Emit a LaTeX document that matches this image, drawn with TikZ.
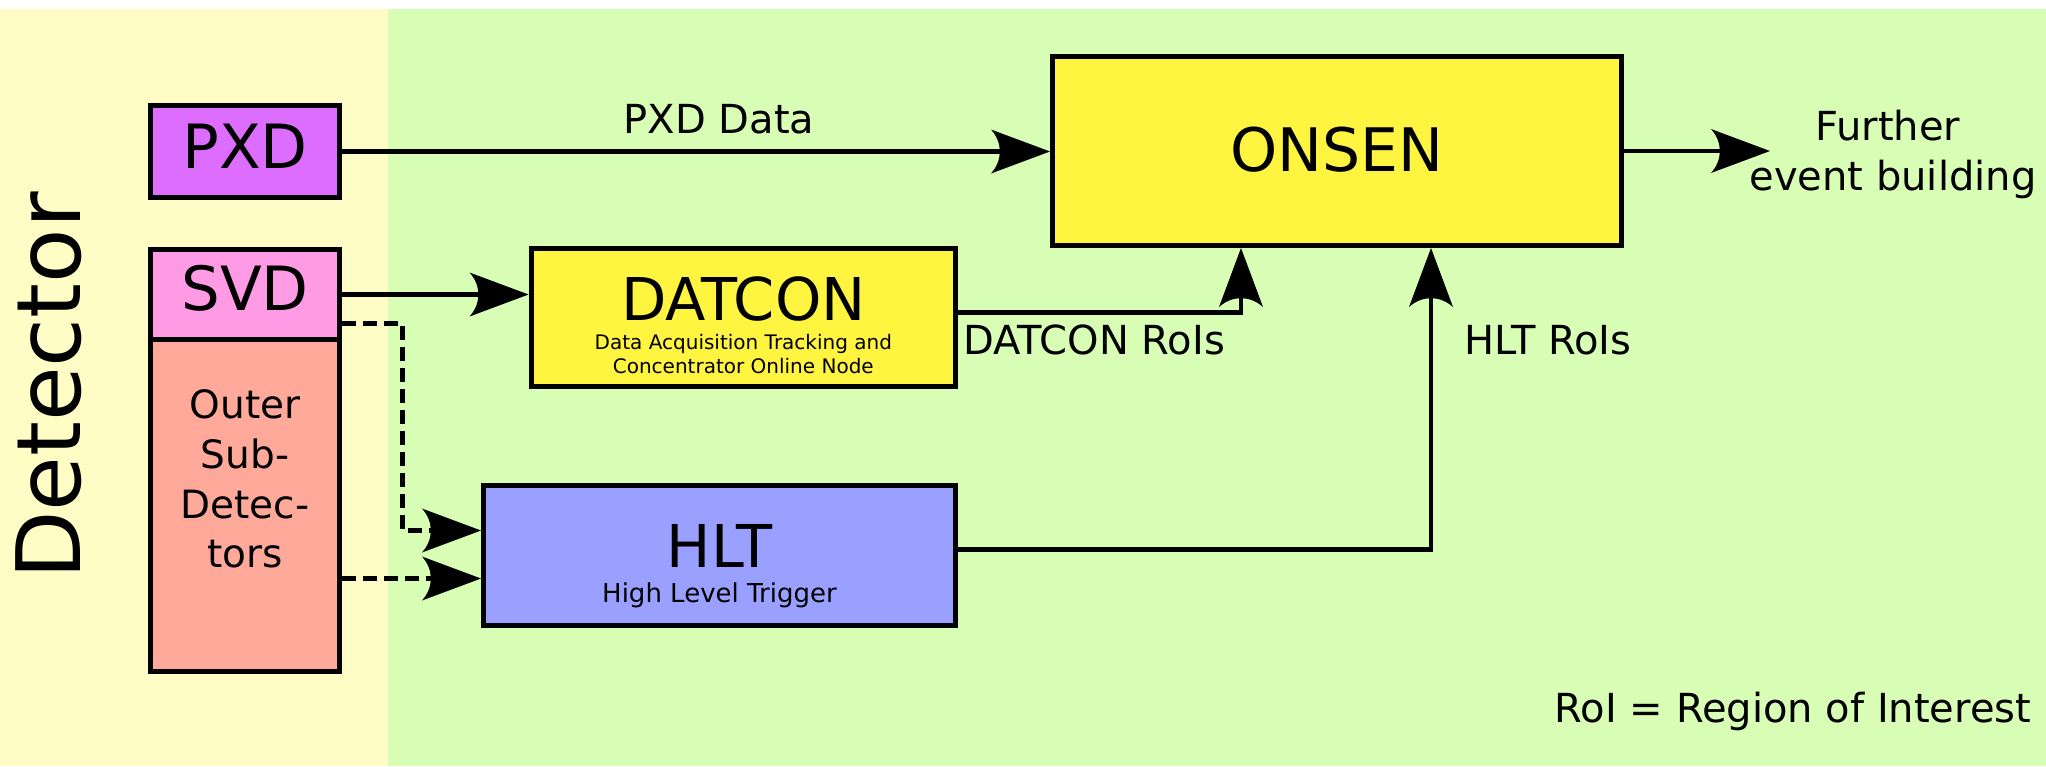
\documentclass[tikz,border=0pt]{standalone}
\usepackage{fontspec}
\setmainfont{DejaVu Sans}
\usetikzlibrary{arrows.meta,calc}
\definecolor{bgyellow}{HTML}{FFFDC5}
\definecolor{bggreen}{HTML}{D8FDB4}
\definecolor{pxdcol}{HTML}{DD6DFF}
\definecolor{svdcol}{HTML}{FF9AE5}
\definecolor{outercol}{HTML}{FFA99A}
\definecolor{boxyellow}{HTML}{FFF540}
\definecolor{hltcol}{HTML}{99A0FF}
\pgfdeclarearrow{
  name = InkTip,
  defaults = {length = 59pt, width = 44pt},
  setup code = {
    \pgfarrowssettipend{0pt}
    \pgfarrowssetbackend{-\pgfarrowlength}
    \pgfarrowssetlineend{-0.7\pgfarrowlength}
    \pgfarrowssetvisualbackend{-0.85\pgfarrowlength}
    \pgfarrowshullpoint{0pt}{0pt}
    \pgfarrowshullpoint{-\pgfarrowlength}{.5\pgfarrowwidth}
    \pgfarrowshullpoint{-\pgfarrowlength}{-.5\pgfarrowwidth}
    \pgfarrowssavethe\pgfarrowlength
    \pgfarrowssavethe\pgfarrowwidth
  },
  drawing code = {
    \pgfpathmoveto{\pgfqpoint{0pt}{0pt}}
    \pgfpathlineto{\pgfpoint{-\pgfarrowlength}{.5\pgfarrowwidth}}
    \pgfpathcurveto{\pgfpoint{-.8\pgfarrowlength}{.2\pgfarrowwidth}}{\pgfpoint{-.8\pgfarrowlength}{-.2\pgfarrowwidth}}{\pgfpoint{-\pgfarrowlength}{-.5\pgfarrowwidth}}
    \pgfpathclose
    \pgfusepathqfill
  },
  parameters = {\the\pgfarrowlength,\the\pgfarrowwidth},
}
\begin{document}
\begin{tikzpicture}[x=1pt,y=-1pt,
  box/.style={draw=black, line width=5pt, inner sep=0pt, rectangle},
  conn/.style={line width=4.6pt, draw=black},
  tipped/.style={-{InkTip[length=59pt,width=44pt]}},
  dashconn/.style={conn, line width=5pt, dash pattern=on 14pt off 7pt},
  lbl/.style={inner sep=0pt, anchor=base, font=\fontsize{40}{48}\selectfont},
  txt/.style={inner sep=0pt, anchor=base}]
\useasboundingbox (0,0) rectangle (2046,766);
\fill[white] (0,0) rectangle (2046,766);
\fill[bgyellow] (0,9) rectangle (388,766);
\fill[bggreen] (388,9) rectangle (2046,766);

% boxes
\node[box, fill=pxdcol, minimum width=189pt, minimum height=92pt] (pxd) at (245,151.5) {};
\node[box, fill=svdcol, minimum width=189pt, minimum height=90pt] (svd) at (245,294.5) {};
\node[box, fill=outercol, minimum width=189pt, minimum height=332pt] (outer) at (245,505.5) {};
\node[box, fill=boxyellow, minimum width=424.5pt, minimum height=138pt] (datcon) at (743.3,317.5) {};
\node[box, fill=boxyellow, minimum width=569pt, minimum height=189pt] (onsen) at (1337,151) {};
\node[box, fill=hltcol, minimum width=472pt, minimum height=140pt] (hlt) at (719.5,555.5) {};

% texts
\node[txt, rotate=90, font=\fontsize{89}{100}\selectfont] (detlbl) at (80,386) {Detector};
\node[txt, font=\fontsize{61}{70}\selectfont] (pxdt) at (245,168.5) {PXD};
\node[txt, font=\fontsize{61}{70}\selectfont] (svdt) at (245,310) {SVD};
\node[txt, font=\fontsize{39}{46}\selectfont] (o1) at (245,418) {Outer};
\node[txt, font=\fontsize{39}{46}\selectfont] (o2) at (245,468) {Sub-};
\node[txt, font=\fontsize{39}{46}\selectfont] (o3) at (245,518) {Detec-};
\node[txt, font=\fontsize{39}{46}\selectfont] (o4) at (245,567) {tors};
\node[txt, font=\fontsize{59}{70}\selectfont] (datcont) at (743.3,320) {DATCON};
\node[txt, font=\fontsize{20}{24}\selectfont] (datsub1) at (743.3,349) {Data Acquisition Tracking and};
\node[txt, font=\fontsize{20}{24}\selectfont] (datsub2) at (743.3,373) {Concentrator Online Node};
\node[txt, font=\fontsize{60}{70}\selectfont] (onsent) at (1337,171) {ONSEN};
\node[txt, font=\fontsize{59}{70}\selectfont] (hltt) at (719.5,567) {HLT};
\node[txt, font=\fontsize{26}{30}\selectfont] (hltsub) at (719.5,602) {High Level Trigger};

\node[lbl] (pxddata) at (719,133) {PXD Data};
\node[lbl] (datroi) at (1094,354) {DATCON RoIs};
\node[lbl] (hltroi) at (1548,354) {HLT RoIs};
\node[lbl] (fur1) at (1888,140) {Further};
\node[lbl] (fur2) at (1893,190) {event building};
\node[lbl] (roidef) at (1793,722) {RoI = Region of Interest};

% connectors
\coordinate (dtarget) at ($(onsen.south west)+(191,0)$);
\coordinate (htarget) at ($(onsen.south west)+(381,0)$);
\coordinate (fout) at (1770,151);

\draw[conn, tipped] (pxd.east) -- (pxd.east -| onsen.west);
\draw[conn, tipped] (svd.east) -- (svd.east -| datcon.west);
\draw[conn, tipped] ($(datcon.east)+(0,-5)$) -| (dtarget);
\draw[conn, tipped] ($(hlt.east)+(0,-6)$) -| (htarget);
\draw[conn, tipped] (onsen.east) -- (fout);
\draw[dashconn, tipped] ($(svd.east)+(0,28.5)$) -- ++(60,0) |- ($(hlt.west)+(0,-25)$);
\draw[dashconn, tipped] ($(outer.east |- hlt.west)+(0,23)$) -- ($(hlt.west)+(0,23)$);
\end{tikzpicture}
\end{document}
